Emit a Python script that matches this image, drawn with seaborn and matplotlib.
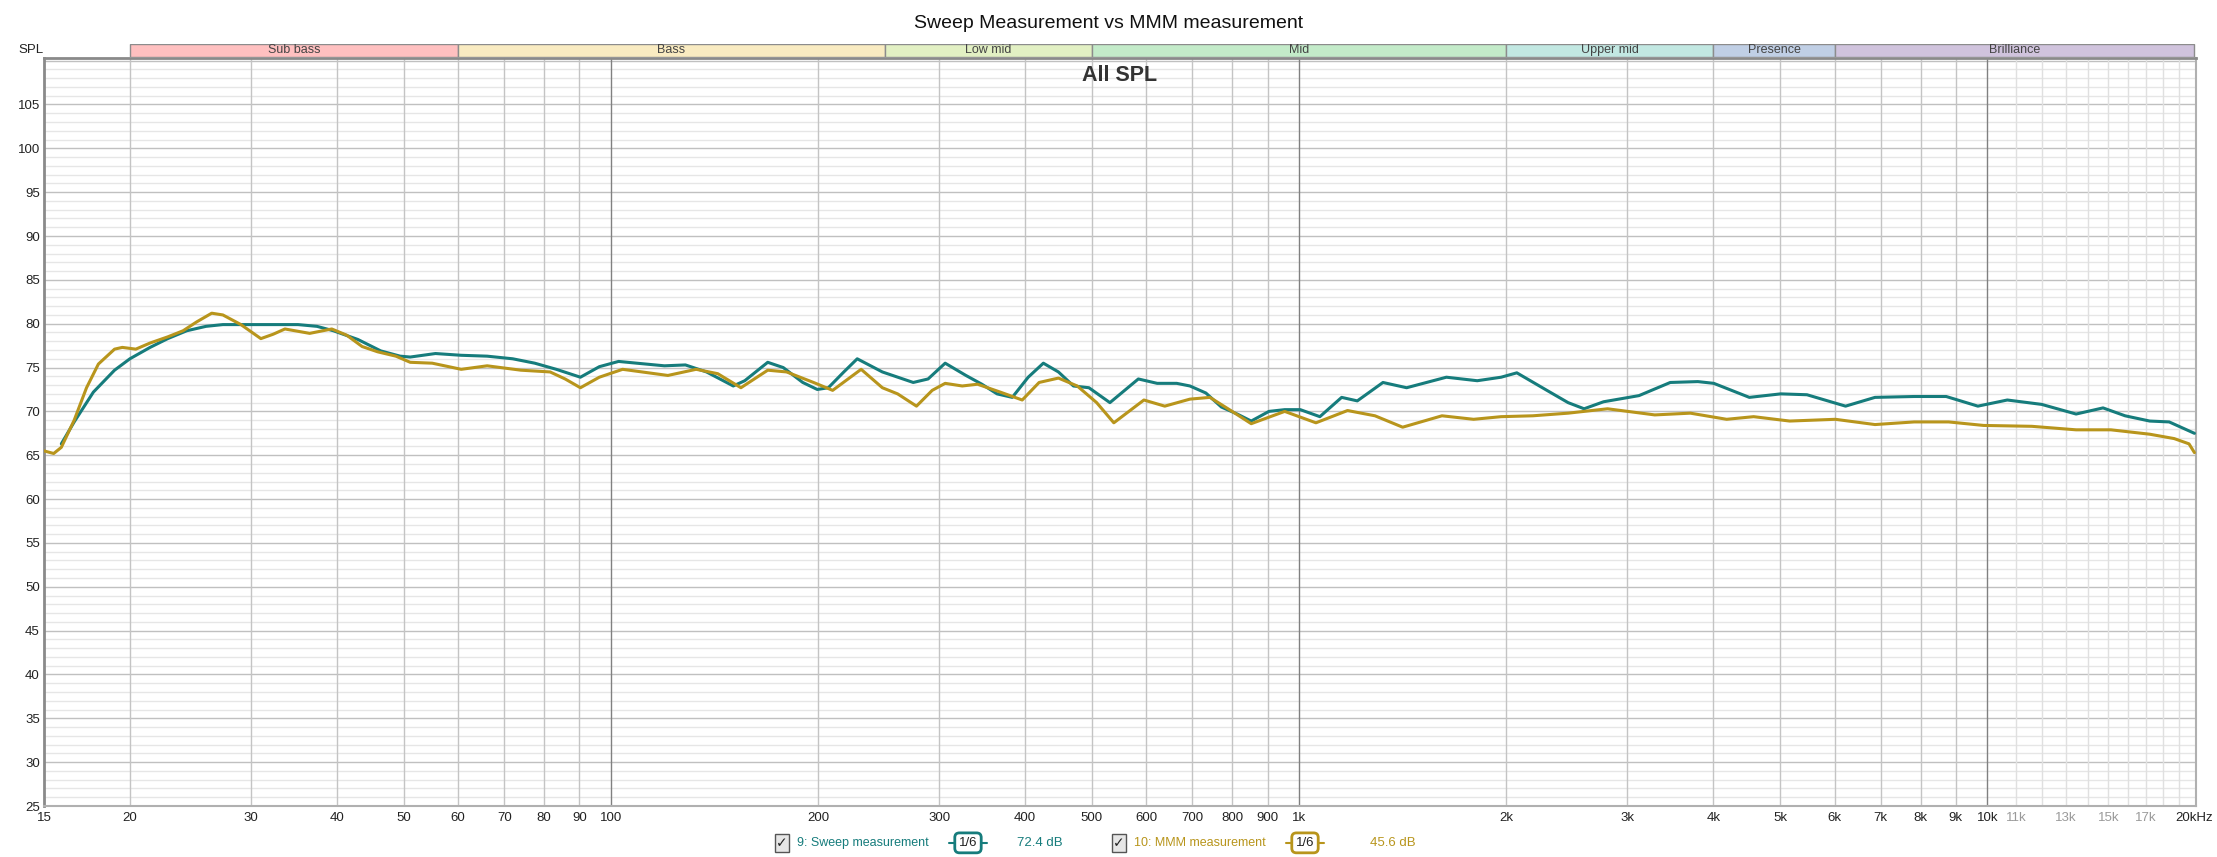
import matplotlib
matplotlib.use("Agg")
import matplotlib.pyplot as plt
from matplotlib.patches import Rectangle
import seaborn as sns
import numpy as np
import pandas as pd

# Frequency response values (Hz, dB SPL)
sweep_freq = [15.9, 16.6, 17.7, 19.0, 20.0, 21.4, 22.7, 24.2, 25.8, 27.3, 35.1, 37.4, 39.5,
              42.9, 46.3, 49.4, 51.1, 55.6, 60.6, 66.1, 72.0, 77.5, 83.3, 90.3, 96.2, 102.6,
              109, 119.6, 128.3, 137.7, 150.6, 156.5, 169, 178, 190, 199.5, 207, 218, 228,
              248, 275, 289, 306, 328, 346, 364, 383, 404, 425, 447, 470, 495, 531, 584,
              622, 664, 694, 732, 771, 813, 852, 904, 953, 1004, 1072, 1153, 1215, 1324,
              1433, 1637, 1815, 1966, 2072, 2303, 2460, 2595, 2770, 3118, 3462, 3797, 4005,
              4511, 5010, 5470, 6224, 6868, 7831, 8715, 9690, 10693, 11995, 13460, 14730,
              15857, 17220, 18380, 20000]
sweep_spl = [66.3, 68.8, 72.2, 74.7, 76.0, 77.3, 78.3, 79.2, 79.7, 79.9, 79.9, 79.7, 79.2,
             78.2, 76.9, 76.3, 76.2, 76.6, 76.4, 76.3, 76.0, 75.5, 74.8, 73.9, 75.1, 75.7,
             75.5, 75.2, 75.3, 74.5, 72.9, 73.5, 75.6, 75.0, 73.3, 72.5, 72.7, 74.5, 76.0,
             74.5, 73.3, 73.7, 75.5, 74.1, 73.1, 72.0, 71.6, 73.9, 75.5, 74.5, 72.9, 72.7,
             71.0, 73.7, 73.2, 73.2, 72.9, 72.1, 70.5, 69.7, 68.9, 70.0, 70.2, 70.2, 69.4,
             71.6, 71.2, 73.3, 72.7, 73.9, 73.5, 73.9, 74.4, 72.3, 71.0, 70.3, 71.1, 71.8,
             73.3, 73.4, 73.2, 71.6, 72.0, 71.9, 70.6, 71.6, 71.7, 71.7, 70.6, 71.3, 70.8,
             69.7, 70.4, 69.5, 68.9, 68.8, 67.5]

mmm_freq = [15, 15.5, 15.9, 16.6, 17.3, 18.0, 19.0, 19.5, 20.4, 21.4, 22.7, 23.9, 25.0,
            26.3, 27.3, 29.0, 31.0, 32.3, 33.6, 36.5, 39.3, 41.3, 43.5, 45.8, 48.7, 51.1,
            55.0, 60.6, 66.1, 74.0, 81.6, 85.8, 90.3, 96.2, 104, 121, 133, 143, 154.5, 169,
            180, 197, 210, 231, 248, 261, 278, 293, 306, 324, 341, 368, 396, 419, 447, 476,
            508, 538, 595, 638, 694, 742, 792, 852, 953, 1058, 1176, 1289, 1414, 1613, 1793,
            1966, 2186, 2460, 2807, 3287, 3703, 4181, 4576, 5163, 6014, 6868, 7831, 8786,
            9877, 11606, 13460, 15122, 17220, 18690, 19640, 20000]
mmm_spl = [65.5, 65.2, 65.9, 69.0, 72.7, 75.4, 77.1, 77.3, 77.1, 77.8, 78.5, 79.2, 80.2,
           81.2, 81.0, 79.9, 78.3, 78.8, 79.4, 78.9, 79.4, 78.7, 77.4, 76.8, 76.3, 75.6,
           75.5, 74.8, 75.2, 74.7, 74.5, 73.7, 72.7, 73.9, 74.8, 74.1, 74.8, 74.3, 72.7,
           74.7, 74.5, 73.3, 72.4, 74.8, 72.7, 72.0, 70.6, 72.4, 73.2, 72.9, 73.1, 72.2,
           71.3, 73.3, 73.8, 72.9, 71.0, 68.7, 71.3, 70.6, 71.4, 71.6, 70.2, 68.6, 70.0,
           68.7, 70.1, 69.5, 68.2, 69.5, 69.1, 69.4, 69.5, 69.8, 70.3, 69.6, 69.8, 69.1,
           69.4, 68.9, 69.1, 68.5, 68.8, 68.8, 68.4, 68.3, 67.9, 67.9, 67.4, 66.9, 66.3,
           65.3]

# Frequency bands shown in the strip above the plot
band_names = ["Sub bass", "Bass", "Low mid", "Mid", "Upper mid", "Presence", "Brilliance"]
band_edges = [20, 60, 250, 500, 2000, 4000, 6000, 20000]
band_colors = ["#ffc0c0", "#f9ebc1", "#e2f0c3", "#c3ebc9", "#c2e8e2", "#c0cfe5", "#d0c3dd"]

x_ticks = [15, 20, 30, 40, 50, 60, 70, 80, 90, 100, 200, 300, 400, 500, 600, 700, 800, 900,
           1000, 2000, 3000, 4000, 5000, 6000, 7000, 8000, 9000, 10000, 11000, 13000,
           15000, 17000, 20000]
x_labels = ["15", "20", "30", "40", "50", "60", "70", "80", "90", "100", "200", "300", "400",
            "500", "600", "700", "800", "900", "1k", "2k", "3k", "4k", "5k", "6k", "7k", "8k",
            "9k", "10k", "11k", "13k", "15k", "17k", "20kHz"]

series_names = ["9: Sweep measurement", "10: MMM measurement"]
series_colors = ["#167c7c", "#b8951c"]
series_levels = ["72.4 dB", "45.6 dB"]

sns.set_style("white")
plt.rcParams['font.family'] = ['Liberation Sans', 'DejaVu Sans']

fig = plt.figure(figsize=(22.17, 8.57), dpi=100)
L, R, B, T = 0.0198, 0.9905, 0.0595, 0.9323
ax = fig.add_axes([L, B, R - L, T - B])
band_ax = fig.add_axes([L, T + 0.0012, R - L, 0.0152])

df = pd.concat([
    pd.DataFrame({"freq": sweep_freq, "spl": sweep_spl, "series": series_names[0]}),
    pd.DataFrame({"freq": mmm_freq, "spl": mmm_spl, "series": series_names[1]}),
])

sns.lineplot(data=df, x="freq", y="spl", hue="series", palette=series_colors,
             linewidth=2.2, legend=False, ax=ax, zorder=5,
             solid_joinstyle="round", solid_capstyle="round")

ax.set_xscale("log")
ax.set_xlim(15, 20100)
ax.set_ylim(25, 110.3)

# horizontal grid
for v in range(25, 111):
    ax.axhline(v, color="#c0c0c0" if v % 5 == 0 else "#e6e6e6", lw=1.0, zorder=1)
# vertical grid
for dec in [10, 100, 1000]:
    for m in range(2, 10):
        f = dec * m
        if f >= 20:
            ax.axvline(f, color="#c4c4c4", lw=1.0, zorder=1)
for f in [100, 1000, 10000]:
    ax.axvline(f, color="#808080", lw=1.0, zorder=2)
for f in range(11000, 20000, 1000):
    ax.axvline(f, color="#e0e0e0", lw=1.0, zorder=1)

ax.set_yticks(range(25, 110, 5))
ax.set_xticks(x_ticks)
ax.set_xticklabels(x_labels)
ax.xaxis.set_minor_locator(matplotlib.ticker.NullLocator())
ax.tick_params(axis="both", length=0, labelsize=9.5, colors="#222222")
ax.tick_params(axis="y", pad=3)
ax.tick_params(axis="x", pad=4)
for lbl in ax.get_xticklabels():
    if lbl.get_text() in ["11k", "13k", "15k", "17k"]:
        lbl.set_color("#9a9a9a")
ax.set_xlabel("")
ax.set_ylabel("")
for side in ["left", "top"]:
    ax.spines[side].set_color("#8a8a8a")
    ax.spines[side].set_linewidth(2)
for side in ["right", "bottom"]:
    ax.spines[side].set_color("#b0b0b0")
    ax.spines[side].set_linewidth(1.5)

ax.text(0.5, 0.976, "All SPL", transform=ax.transAxes, ha="center", va="center",
        fontsize=15.5, fontweight="bold", color="#333333")

# band strip
band_ax.set_xscale("log")
band_ax.set_xlim(15, 20100)
band_ax.set_ylim(0, 1)
for name, lo, hi, c in zip(band_names, band_edges[:-1], band_edges[1:], band_colors):
    band_ax.add_patch(Rectangle((lo, 0), hi - lo, 1, facecolor=c, edgecolor="#8c8c8c", lw=1))
    band_ax.text(np.sqrt(lo * hi), 0.5, name, ha="center", va="center", fontsize=9, color="#444444")
band_ax.axis("off")

fig.text(0.5, 0.973, "Sweep Measurement vs MMM measurement", ha="center", va="center",
         fontsize=14, color="#111111")
fig.text(0.0081, 0.942, "SPL", ha="left", va="center", fontsize=9.5, color="#222222")

# legend row
ly = 0.0165
W = 2217.0
legend_x = [(782, 797, 968, 1040), (1119, 1134, 1305, 1393)]
for (cb, tx, bx, lv), name, col, lev in zip(legend_x, series_names, series_colors, series_levels):
    fig.text(cb / W, ly, "\u2713", ha="center", va="center", fontsize=10, color="#222222",
             family=["DejaVu Sans"],
             bbox=dict(boxstyle="square,pad=0.12", fc="#e6e6e6", ec="#555555", lw=1))
    fig.text(tx / W, ly, name, ha="left", va="center", fontsize=9, color=col)
    fig.add_artist(plt.Line2D([(bx - 19) / W, (bx + 19) / W], [ly, ly], color=col, lw=1.5))
    fig.text(bx / W, ly, "1/6", ha="center", va="center", fontsize=9.5, color="#222222",
             bbox=dict(boxstyle="round,pad=0.3,rounding_size=0.35", fc="white", ec=col, lw=2),
             zorder=3)
    fig.text(lv / W, ly, lev, ha="center", va="center", fontsize=9.5, color=col)

fig.savefig("out.png", dpi=100, facecolor="white")
